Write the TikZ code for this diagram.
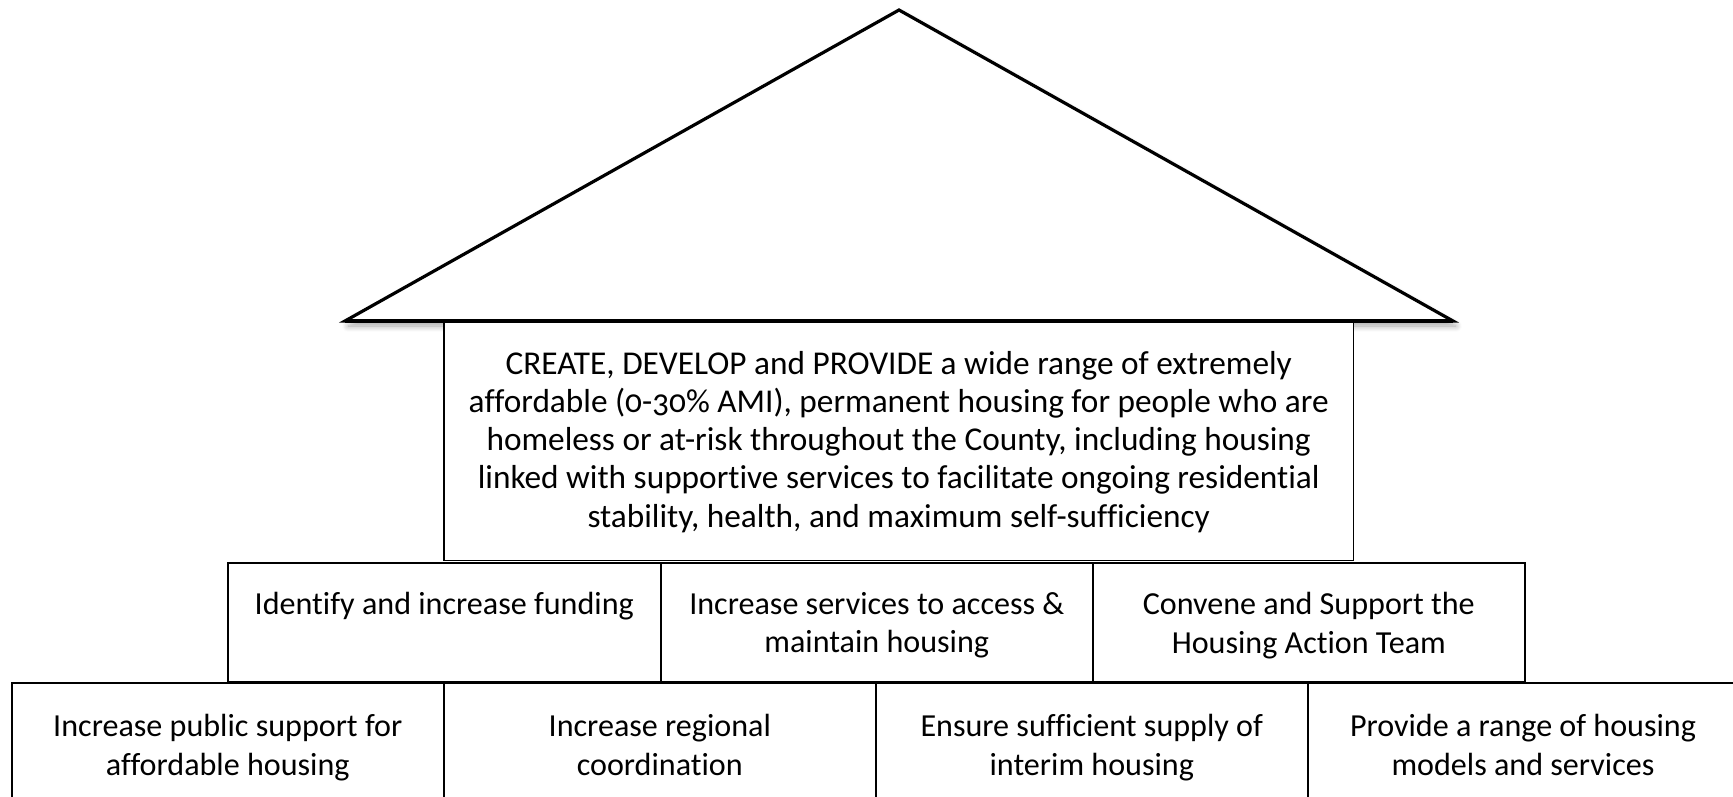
\documentclass[tikz,border=0pt]{standalone}
\usepackage{fontspec}
\setmainfont{Carlito}[Numbers=OldStyle, Ligatures=NoCommon]
\newfontfamily\lowfont{Carlito}[Ligatures=NoCommon]
\usetikzlibrary{shadows.blur}
\tikzset{
  roofline/.style={line width=3.2pt, line join=miter, fill=white,
    blur shadow={shadow xshift=3pt, shadow yshift=-5pt, shadow blur steps=8, shadow opacity=35, shadow blur radius=6pt}},
  lowbox/.style={draw, line width=1.6pt, fill=white},
  maintext/.style={align=center, font=\fontsize{33.3}{38.2}\selectfont, inner sep=0pt},
  lowtext/.style={align=center, font=\lowfont\fontsize{32.1}{38.6}\selectfont, inner sep=0pt}
}
\begin{document}
\begin{tikzpicture}[x=1pt, y=-1pt]
\useasboundingbox (0,0) rectangle (1733,797);
% roof
\coordinate (apex) at (899,10);
\coordinate (eaveL) at (345,321);
\coordinate (eaveR) at (1453,321);
\draw[roofline] (eaveL) -- (apex) -- (eaveR) -- cycle;
% main box
\node[draw=none, fill=white, minimum width=909pt, minimum height=239pt, anchor=north west] (main) at (444,321) {};
\draw[line width=1.8pt] (main.north west) -- (main.south west) -- (main.south east) -- (main.north east);
\draw[line width=3.2pt] (eaveL) -- (eaveR);
\node[maintext, anchor=north] (maint) at ([yshift=-30]main.north)
  {CREATE, DEVELOP and PROVIDE a wide range of extremely\\ affordable (0-30\% AMI), permanent housing for people who are\\ homeless or at-risk throughout the County, including housing\\ linked with supportive services to facilitate ongoing residential\\ stability, health, and maximum self-sufficiency};
% middle row
\node[lowbox, minimum width=433pt, minimum height=119pt, anchor=north west] (m1) at (227,562) {};
\node[lowbox, minimum width=432pt, minimum height=119pt, anchor=north west] (m2) at (660,562) {};
\node[lowbox, minimum width=432pt, minimum height=119pt, anchor=north west] (m3) at (1092,562) {};
\node[lowtext, anchor=north] (m1t) at ([yshift=-30]m1.north) {Identify and increase funding};
\node[lowtext, anchor=north] (m2t) at ([yshift=-30]m2.north) {Increase services to access \&\\ maintain housing};
\node[lowtext, anchor=north] (m3t) at ([yshift=-30]m3.north) {Convene and Support the\\ Housing Action Team};
% bottom row
\node[lowbox, minimum width=432pt, minimum height=140pt, anchor=north west] (b1) at (11,682) {};
\node[lowbox, minimum width=432pt, minimum height=140pt, anchor=north west] (b2) at (443,682) {};
\node[lowbox, minimum width=432pt, minimum height=140pt, anchor=north west] (b3) at (875,682) {};
\node[lowbox, minimum width=460pt, minimum height=140pt, anchor=north west] (b4) at (1307,682) {};
\node[lowtext, anchor=north] (b1t) at ([yshift=-32]b1.north) {Increase public support for\\ affordable housing};
\node[lowtext, anchor=north] (b2t) at ([yshift=-32]b2.north) {Increase regional\\ coordination};
\node[lowtext, anchor=north] (b3t) at ([yshift=-32]b3.north) {Ensure sufficient supply of\\ interim housing};
\coordinate (b4c) at (1523,682);
\node[lowtext, anchor=north] (b4t) at ([yshift=-32]b4c) {Provide a range of housing\\ models and services};
\end{tikzpicture}
\end{document}
